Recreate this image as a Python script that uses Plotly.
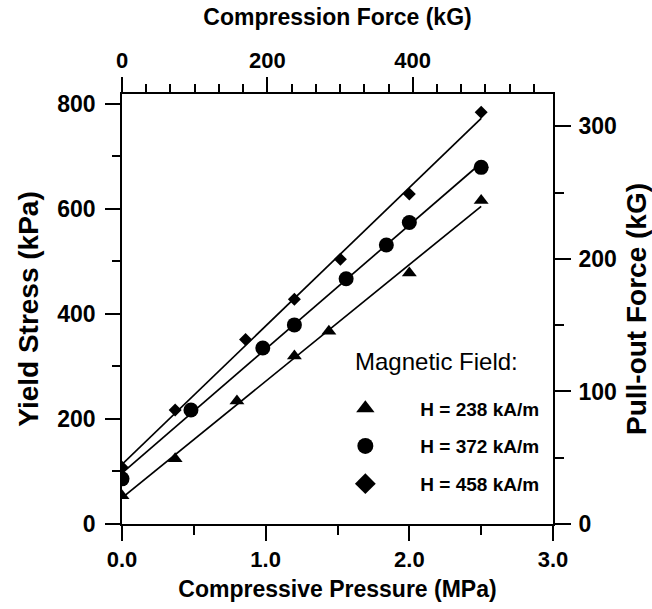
import numpy as np
import plotly.graph_objects as go

# Yield stress (kPa) against compressive pressure (MPa) for three field strengths
p_238 = [0.0, 0.37, 0.80, 1.20, 1.44, 2.00, 2.50]
s_238 = [54, 124, 234, 320, 367, 478, 616]

p_372 = [0.0, 0.48, 0.98, 1.20, 1.56, 1.84, 2.00, 2.50]
s_372 = [86, 217, 335, 379, 467, 531, 574, 679]

p_458 = [0.0, 0.37, 0.86, 1.20, 1.52, 2.00, 2.50]
s_458 = [108, 217, 351, 428, 504, 628, 784]

series_names = ["H = 238 kA/m", "H = 372 kA/m", "H = 458 kA/m"]
symbols = ["triangle-up", "circle", "diamond"]
sizes = [13, 15, 10]

bottom_ticks = [0, 1, 2, 3]
bottom_labels = ["0.0", "1.0", "2.0", "3.0"]
top_ticks = [0, 200, 400]
left_ticks = [0, 200, 400, 600, 800]
right_ticks = [0, 100, 200, 300]

FONT = "Liberation Sans, Arial, sans-serif"
xtick_font = dict(family=FONT, size=22, color="black", weight="bold")
ytick_font = dict(family=FONT, size=23, color="black", weight="bold")
xtitle_font = dict(family=FONT, size=23, color="black", weight="bold")
ytitle_font = dict(family=FONT, size=28, color="black", weight="bold")

fig = go.Figure()

for i, (px, sy) in enumerate([(p_238, s_238), (p_372, s_372), (p_458, s_458)]):
    # least-squares line over the measured pressure span
    slope, icpt = np.polyfit(px, sy, 1)
    xl = np.array([min(px), max(px)])
    fig.add_trace(go.Scatter(
        x=xl, y=slope * xl + icpt, mode="lines",
        line=dict(color="black", width=1.7),
        showlegend=False, hoverinfo="skip"))
    fig.add_trace(go.Scatter(
        x=px, y=sy, mode="markers", name=series_names[i],
        legendgroup=series_names[i], showlegend=False,
        marker=dict(symbol=symbols[i], size=sizes[i], color="black",
                    line=dict(width=0))))
    # legend key drawn with a larger symbol than the data points
    fig.add_trace(go.Scatter(
        x=[None], y=[None], mode="markers", name=series_names[i],
        legendgroup=series_names[i],
        marker=dict(symbol=symbols[i], size=16, color="black",
                    line=dict(width=0))))

# empty trace so the secondary (top/right) axes get drawn
fig.add_trace(go.Scatter(x=[], y=[], xaxis="x2", yaxis="y2",
                         showlegend=False, hoverinfo="skip"))

axis_common = dict(showline=True, linecolor="black", linewidth=1.6,
                   ticks="outside", ticklen=15, tickwidth=1.6,
                   tickcolor="black", showgrid=False, zeroline=False,
                   automargin=False)


def minor(step, length=8):
    return dict(dtick=step, ticks="outside", ticklen=length,
                tickwidth=1.6, tickcolor="black")


fig.update_layout(
    width=652, height=609,
    margin=dict(l=122, r=99, t=94, b=85),
    paper_bgcolor="white", plot_bgcolor="white",
    xaxis=dict(range=[0, 3], tickvals=bottom_ticks, ticktext=bottom_labels,
               ticklabelstandoff=0, tickfont=xtick_font,
               title=dict(text="Compressive Pressure (MPa)", standoff=10,
                          font=xtitle_font),
               minor=minor(0.5, 9), **axis_common),
    xaxis2=dict(range=[0, 593], overlaying="x", side="top",
                tickvals=top_ticks, tickfont=xtick_font,
                title=dict(text="Compression Force (kG)", standoff=16,
                           font=xtitle_font),
                minor=minor(200 / 6), **axis_common),
    yaxis=dict(range=[0, 818.6], tickvals=left_ticks,
               ticklabelstandoff=5, tickfont=ytick_font,
               title=dict(text="Yield Stress (kPa)", standoff=10,
                          font=ytitle_font),
               minor=minor(100), **axis_common),
    yaxis2=dict(range=[0, 324.4], overlaying="y", side="right",
                tickvals=right_ticks, ticklabelstandoff=3,
                tickfont=ytick_font,
                title=dict(text="Pull-out Force (kG)", standoff=14,
                           font=ytitle_font),
                minor=minor(50, 9), **{**axis_common, "ticklen": 16}),
    legend=dict(x=0.437, y=0.313, xanchor="left", yanchor="top",
                bgcolor="rgba(0,0,0,0)", borderwidth=0,
                itemwidth=100, tracegroupgap=10,
                font=dict(family=FONT, size=19, color="black", weight="bold")),
    annotations=[dict(text="Magnetic Field:", xref="paper", yref="paper",
                      x=0.537, y=0.378, xanchor="left", yanchor="middle",
                      showarrow=False,
                      font=dict(family=FONT, size=24, color="black"))],
    showlegend=True,
)

fig.write_html("out.html")
